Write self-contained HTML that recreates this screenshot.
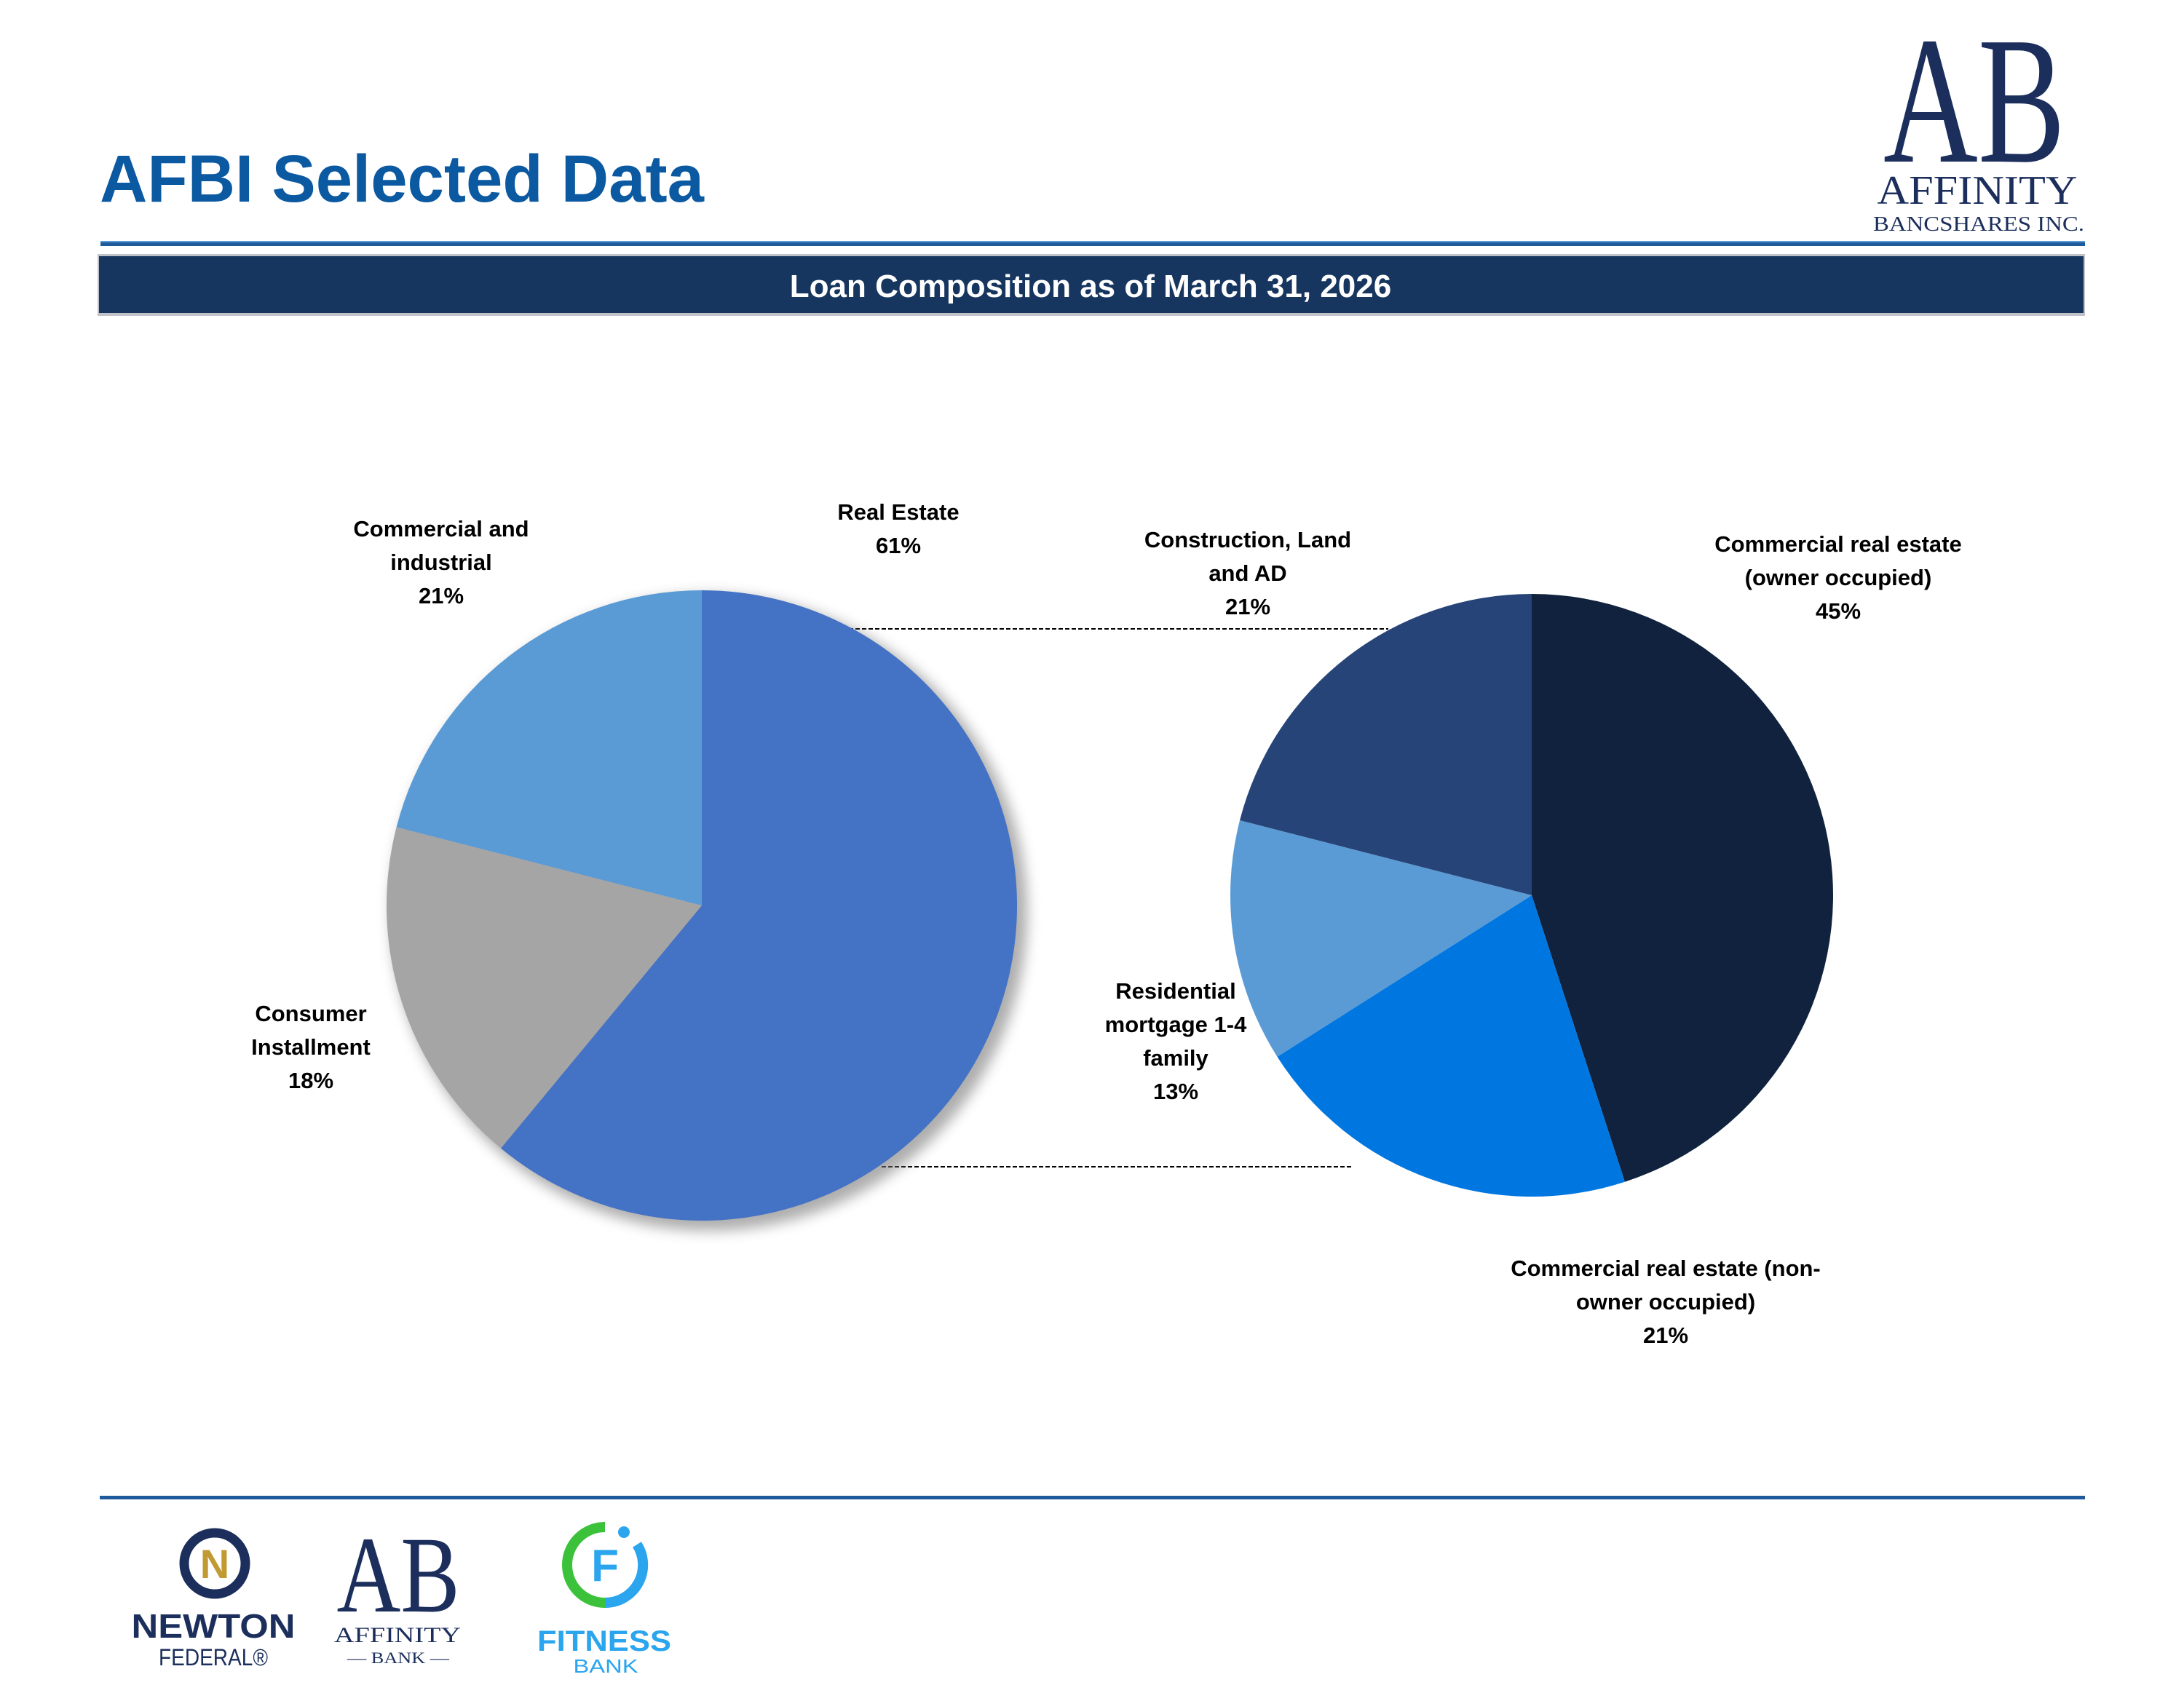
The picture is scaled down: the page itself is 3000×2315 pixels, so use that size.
<!DOCTYPE html>
<html><head><meta charset="utf-8"><style>
html,body{margin:0;padding:0;background:#fff;}
body{width:3000px;height:2315px;position:relative;overflow:hidden;font-family:"Liberation Sans",sans-serif;}
svg{position:absolute;left:0;top:0;}
</style></head><body>
<svg id="page" width="3000" height="2315" viewBox="0 0 3000 2315">
<defs>
<filter id="sh" x="-20%" y="-20%" width="140%" height="140%"><feGaussianBlur stdDeviation="9"/></filter>
</defs>
<text x="137" y="277" font-size="92" font-weight="bold" fill="#0B59A1" textLength="830" lengthAdjust="spacingAndGlyphs">AFBI Selected Data</text>
<g>
<text x="2712" y="222" font-family="Liberation Serif,serif" font-size="250" fill="#1B2E5C" text-anchor="middle" textLength="250" lengthAdjust="spacingAndGlyphs">AB</text>
<text x="2716" y="280" font-family="Liberation Serif,serif" font-size="56" fill="#1B2E5C" text-anchor="middle" textLength="275" lengthAdjust="spacingAndGlyphs">AFFINITY</text>
<text x="2718" y="317" font-family="Liberation Serif,serif" font-size="28" fill="#1B2E5C" text-anchor="middle" textLength="290" lengthAdjust="spacingAndGlyphs">BANCSHARES INC.</text>
</g>
<rect x="138" y="331" width="2726" height="2" fill="#5B9BD5"/>
<rect x="138" y="333" width="2726" height="5" fill="#1F5A9A"/>
<rect x="134" y="349" width="2730" height="85" fill="#BFC3C8"/>
<rect x="136" y="352" width="2726" height="78" fill="#17365F"/>
<text x="1498" y="408" font-size="44" font-weight="bold" fill="#fff" text-anchor="middle">Loan Composition as of March 31, 2026</text>
<g id="charts"></g>
<rect x="137" y="2055" width="2727" height="5" fill="#1F5A9A"/>
<g>
<circle cx="295" cy="2148" r="42" fill="none" stroke="#1B2E5C" stroke-width="13"/>
<text x="295" y="2168" font-size="56" font-weight="bold" fill="#C19A33" text-anchor="middle">N</text>
<text x="293" y="2250" font-size="46" font-weight="bold" fill="#1B2E5C" text-anchor="middle" textLength="225" lengthAdjust="spacingAndGlyphs">NEWTON</text>
<text x="293" y="2288" font-size="32" fill="#1B2E5C" text-anchor="middle" textLength="150" lengthAdjust="spacingAndGlyphs">FEDERAL®</text>
</g>
<g>
<text x="547" y="2214" font-family="Liberation Serif,serif" font-size="150" fill="#1B2E5C" text-anchor="middle" textLength="169" lengthAdjust="spacingAndGlyphs">AB</text>
<text x="546" y="2256" font-family="Liberation Serif,serif" font-size="30" fill="#1B2E5C" text-anchor="middle" textLength="174" lengthAdjust="spacingAndGlyphs">AFFINITY</text>
<text x="547" y="2285" font-family="Liberation Serif,serif" font-size="22" fill="#1B2E5C" text-anchor="middle" textLength="140" lengthAdjust="spacingAndGlyphs">— BANK —</text>
</g>
<g>
<path d="M831 2098 A52 52 0 0 0 831 2202" fill="none" stroke="#3CC23A" stroke-width="14"/>
<path d="M831 2202 A52 52 0 0 0 875 2122" fill="none" stroke="#2AA5EE" stroke-width="14"/>
<circle cx="857" cy="2105" r="8" fill="#2AA5EE"/>
<text x="831" y="2172" font-size="62" font-weight="bold" fill="#2AA5EE" text-anchor="middle">F</text>
<text x="830" y="2268" font-size="40" font-weight="bold" fill="#2AA5EE" text-anchor="middle" textLength="184" lengthAdjust="spacingAndGlyphs">FITNESS</text>
<text x="832" y="2298" font-size="26" fill="#2AA5EE" text-anchor="middle" textLength="89" lengthAdjust="spacingAndGlyphs">BANK</text>
</g>
</svg>
<script>
const leftCategories = ["Real Estate", "Consumer Installment", "Commercial and industrial"];
const leftValues = [61, 18, 21];
const leftLabels = [["Real Estate","61%"],["Consumer","Installment","18%"],["Commercial and","industrial","21%"]];
const rightCategories = ["Commercial real estate (owner occupied)", "Commercial real estate (non-owner occupied)", "Residential mortgage 1-4 family", "Construction, Land and AD"];
const rightValues = [45, 21, 13, 21];
const rightLabels = [["Commercial real estate","(owner occupied)","45%"],["Commercial  real estate (non-","owner occupied)","21%"],["Residential","mortgage 1-4","family","13%"],["Construction, Land","and AD","21%"]];

const NS = "http://www.w3.org/2000/svg";
const g = document.getElementById("charts");
function mk(tag, attrs, parent) {
  const e = document.createElementNS(NS, tag);
  for (const k in attrs) e.setAttribute(k, attrs[k]);
  (parent || g).appendChild(e);
  return e;
}
function pt(cx, cy, r, frac) {
  const a = frac * 2 * Math.PI;
  return [cx + r * Math.sin(a), cy - r * Math.cos(a)];
}
function drawPie(cx, cy, r, values, colors, names, shadow, key) {
  if (shadow) {
    const s = mk("circle", {cx: cx + 10, cy: cy + 10, r: r + 4, fill: "#777", opacity: 0.6, filter: "url(#sh)"});
    
    
  }
  const total = values.reduce((a, b) => a + b, 0);
  let acc = 0;
  values.forEach((v, i) => {
    const f0 = acc / total, f1 = (acc + v) / total;
    acc += v;
    const p0 = pt(cx, cy, r, f0), p1 = pt(cx, cy, r, f1);
    const large = (f1 - f0) > 0.5 ? 1 : 0;
    const p = mk("path", {d: `M${cx} ${cy} L${p0[0]} ${p0[1]} A${r} ${r} 0 ${large} 1 ${p1[0]} ${p1[1]} Z`, fill: colors[i]});
    
    
  });
}
function drawLabel(lines, cx, y0, key) {
  const t = mk("text", {x: cx, y: y0, "font-size": 31, "font-weight": "bold", fill: "#000", "text-anchor": "middle"});
  
  
  lines.forEach((l, i) => {
    const s = mk("tspan", {x: cx, dy: i === 0 ? 0 : 46}, t);
    s.textContent = l;
  });
}
const d1 = mk("line", {x1: 1157, y1: 864, x2: 1907, y2: 864, stroke: "#000", "stroke-width": 2, "stroke-dasharray": "6 3"});


const d2 = mk("line", {x1: 1211, y1: 1603, x2: 1856, y2: 1603, stroke: "#000", "stroke-width": 2, "stroke-dasharray": "6 3"});



drawPie(964, 1244, 433, leftValues, ["#4472C4", "#A5A5A5", "#5B9BD5"], leftCategories, true, "loan-type");
drawPie(2104, 1230, 414, rightValues, ["#10223D", "#0077E0", "#5B9BD5", "#264478"], rightCategories, false, "real-estate");

const leftPos = [[1234, 714], [427, 1403], [606, 737]];
const rightPos = [[2525, 758], [2288, 1753], [1615, 1372], [1714, 752]];
leftLabels.forEach((l, i) => drawLabel(l, leftPos[i][0], leftPos[i][1], 'label-' + leftCategories[i].toLowerCase().replace(/[^a-z0-9]+/g, '-')));
rightLabels.forEach((l, i) => drawLabel(l, rightPos[i][0], rightPos[i][1], 'label-' + rightCategories[i].toLowerCase().replace(/[^a-z0-9]+/g, '-').replace(/-$/, '')));
</script>
</body></html>
